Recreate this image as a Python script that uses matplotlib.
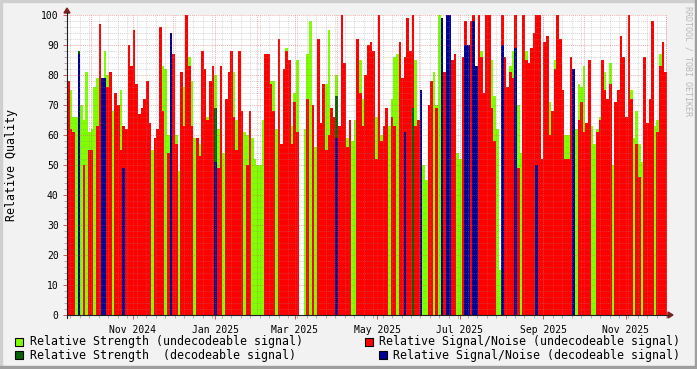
import numpy as np
import pandas as pd
import matplotlib
matplotlib.use('Agg')
import matplotlib.pyplot as plt
import matplotlib.dates as mdates
from matplotlib.patches import Rectangle, Polygon
from matplotlib.lines import Line2D

# time span covered by the bins (about 2 days per bin)
t_start = '2024-09-13 10:00'
t_end = '2025-12-01 12:00'

# relative strength, undecodeable signal (per bin, 0 = nothing)
strength_undec = [
    75, 75, 66, 66, 0, 70, 65, 81, 61, 62, 76, 79, 0, 74, 88, 80, 0, 68, 62, 61,
    75, 61, 0, 86, 60, 0, 58, 59, 0, 0, 58, 52, 55, 55, 55, 58, 83, 82,
    60, 60, 84, 60, 48, 0, 76, 0, 86, 78, 59, 57, 57, 60, 64, 66, 58, 68, 80, 62,
    58, 54, 58, 50, 0, 81, 65, 65, 62, 61, 60, 57, 59, 52, 50, 50, 65, 58,
    0, 78, 78, 62, 60, 0, 0, 89, 63, 63, 74, 85, 0, 0, 62, 87, 98, 67, 56, 63,
    63, 66, 77, 95, 58, 62, 80, 57, 63, 0, 59, 61, 58, 65, 0, 85, 72, 0,
    0, 85, 0, 66, 60, 60, 0, 0, 63, 72, 86, 87, 0, 70, 70, 0, 88, 0, 85, 63,
    0, 50, 45, 0, 71, 81, 70, 100, 0, 0, 0, 0, 72, 0, 54, 52, 0, 0,
    0, 0, 0, 59, 59, 88, 0, 0, 0, 85, 73, 62, 15, 0, 80, 76, 83, 88, 0, 70,
    54, 0, 88, 70, 0, 0, 79, 0, 0, 79, 0, 71, 67, 85, 0, 0, 0, 60,
    60, 68, 0, 62, 77, 76, 83, 0, 84, 63, 57, 62, 66, 0, 81, 0, 84, 50, 60, 64,
    81, 0, 63, 0, 75, 59, 68, 57, 51, 0, 64, 0, 0, 63, 65, 87, 80, 0,
]

# relative signal/noise, undecodeable signal
snr_undec = [
    78, 62, 61, 0, 0, 0, 50, 0, 55, 55, 0, 63, 97, 0, 0, 76, 81, 0, 74, 70,
    55, 63, 62, 90, 83, 95, 77, 67, 69, 72, 78, 64, 0, 59, 62, 96, 68, 0,
    54, 0, 87, 57, 0, 81, 63, 100, 83, 63, 0, 59, 53, 88, 82, 65, 78, 83, 57, 49,
    83, 0, 72, 81, 88, 66, 55, 88, 68, 0, 50, 68, 0, 0, 0, 0, 0, 87,
    87, 77, 68, 0, 92, 57, 82, 88, 85, 57, 71, 61, 0, 0, 0, 72, 0, 70, 0, 92,
    64, 77, 55, 60, 69, 66, 0, 63, 100, 84, 56, 65, 0, 0, 92, 74, 63, 80,
    90, 91, 88, 52, 100, 58, 63, 69, 0, 66, 63, 0, 91, 79, 86, 99, 88, 100, 63, 65,
    55, 0, 0, 70, 78, 0, 69, 0, 58, 81, 100, 60, 85, 87, 0, 0, 86, 98,
    0, 98, 100, 0, 100, 86, 74, 100, 100, 69, 58, 0, 0, 100, 86, 76, 81, 79, 100, 49,
    0, 100, 85, 84, 89, 94, 100, 100, 52, 91, 93, 60, 68, 82, 100, 92, 75, 52,
    52, 86, 0, 0, 65, 71, 61, 64, 85, 0, 0, 61, 65, 85, 75, 72, 77, 0, 71, 75,
    93, 86, 66, 100, 72, 0, 57, 46, 0, 86, 64, 72, 98, 0, 61, 83, 91, 81,
]

# decodeable signal (sparse: bin index -> value)
snr_dec_bins = [4, 13, 14, 21, 39, 56, 102, 128, 134, 142, 144, 145, 151, 152,
                154, 155, 165, 170, 178, 192]
snr_dec_vals = [87, 79, 79, 49, 94, 51, 59, 61, 75, 99, 100, 100, 90, 90,
                98, 83, 90, 89, 50, 82]
strength_dec_bins = [4, 56, 102, 131, 155]
strength_dec_vals = [88, 69, 73, 69, 83]

month_labels = ['2024-11-01', '2025-01-01', '2025-03-01', '2025-05-01',
                '2025-07-01', '2025-09-01', '2025-11-01']

legend_left = ['Relative Strength (undecodeable signal)',
               'Relative Strength  (decodeable signal)']
legend_right = ['Relative Signal/Noise (undecodeable signal)',
                'Relative Signal/Noise (decodeable signal)']

C_GREEN = '#80FF00'
C_DKGREEN = '#006400'
C_RED = '#FF0000'
C_BLUE = '#000096'
BACK = '#F2F2F2'
MONO = 'DejaVu Sans Mono'

W, H = 697, 369
fig = plt.figure(figsize=(W / 100, H / 100), dpi=100, facecolor=BACK)


def fx(x):
    return x / W


def fy(y):
    return 1 - y / H


# plot area: x 67..667, y 15..315 in pixels
ax = fig.add_axes([fx(67), fy(315), 600 / W, 300 / H])
ax.set_facecolor('white')
for s in ax.spines.values():
    s.set_visible(False)

edges = mdates.date2num(pd.date_range(t_start, t_end, periods=len(snr_undec) + 1))
left = edges[:-1]
widths = np.diff(edges)

bar_kw = dict(align='edge', linewidth=0, antialiased=False)
ax.bar(left, strength_undec, width=widths, color=C_GREEN, zorder=1, **bar_kw)
ax.bar(left, snr_undec, width=widths, color=C_RED, zorder=2, **bar_kw)
ax.bar(left[strength_dec_bins], strength_dec_vals, width=widths[strength_dec_bins],
       color=C_DKGREEN, zorder=3, **bar_kw)
ax.bar(left[snr_dec_bins], snr_dec_vals, width=widths[snr_dec_bins],
       color=C_BLUE, zorder=4, **bar_kw)

ax.set_xlim(edges[0], edges[-1])
ax.set_ylim(0, 100)

# grid drawn on top of the data, like rrdtool does
dots = (0, (1, 1))
for v in range(2, 100, 2):
    if v % 10:
        ax.axhline(v, color='#8F8F8F', alpha=0.35, lw=0.7, ls=dots, zorder=5)
for v in range(10, 101, 10):
    ax.axhline(v, color='#DE4F4F', alpha=0.45, lw=0.7, ls=dots, zorder=5)

weeks = mdates.date2num(pd.date_range('2024-09-16', t_end, freq='7D'))
months = mdates.date2num(pd.date_range('2024-10-01', t_end, freq='MS'))
for d in weeks:
    ax.axvline(d, color='#8F8F8F', alpha=0.35, lw=0.7, ls=dots, zorder=5)
for d in months:
    ax.axvline(d, color='#DE4F4F', alpha=0.45, lw=0.7, ls=dots, zorder=5)

ax.set_yticks(range(0, 101, 10))
ax.set_yticks(range(0, 101, 2), minor=True)
ax.set_yticklabels([str(v) for v in range(0, 101, 10)], fontsize=7, family=MONO)
ax.set_xticks(mdates.date2num(pd.to_datetime(month_labels)))
ax.set_xticklabels(pd.to_datetime(month_labels).strftime('%b %Y'), fontsize=7, family=MONO)
ax.set_xticks(weeks, minor=True)
ax.tick_params(which='major', length=3, width=0.7, color='#DE4F4F', pad=4)
ax.tick_params(which='minor', length=2, width=0.7, color='#B0B0B0')
ax.tick_params(axis='y', which='major', pad=3)

# y axis title, placed like rrdtool puts it
fig.text(fx(12), fy(165), 'Relative Quality', rotation=90, ha='center', va='center',
         fontsize=8.4, family=MONO)

# axes with arrows
axis_col = '#1F1F1F'
arrow_col = '#801F1F'
fig.add_artist(Line2D([fx(67), fx(668)], [fy(315), fy(315)], color=axis_col, lw=0.8))
fig.add_artist(Line2D([fx(67), fx(67)], [fy(318), fy(12)], color=axis_col, lw=0.8))
fig.add_artist(Polygon([(fx(668), fy(312)), (fx(673), fy(315)), (fx(668), fy(318))],
                       closed=True, color=arrow_col, transform=fig.transFigure))
fig.add_artist(Polygon([(fx(64), fy(13)), (fx(67), fy(8)), (fx(70), fy(13))],
                       closed=True, color=arrow_col, transform=fig.transFigure))

# watermark
fig.text(fx(688), fy(6), 'RRDTOOL / TOBI OETIKER', rotation=270, ha='center', va='top',
         fontsize=6, family=MONO, color='#B8B8B8')

# legend
rows_y = [341.5, 355]
left_colors = [C_GREEN, C_DKGREEN]
right_colors = [C_RED, C_BLUE]
for i, (txt, col) in enumerate(zip(legend_left, left_colors)):
    y = rows_y[i]
    fig.add_artist(Rectangle((fx(15), fy(y + 4)), 8 / W, 8 / H, facecolor=col,
                             edgecolor='black', lw=0.8, transform=fig.transFigure))
    fig.text(fx(30), fy(y), txt, ha='left', va='center', fontsize=8.4, family=MONO)
right_sq = [365, 379]
for i, (txt, col) in enumerate(zip(legend_right, right_colors)):
    y = rows_y[i]
    fig.add_artist(Rectangle((fx(right_sq[i]), fy(y + 4)), 8 / W, 8 / H, facecolor=col,
                             edgecolor='black', lw=0.8, transform=fig.transFigure))
    fig.text(fx(680), fy(y), txt, ha='right', va='center', fontsize=8.4, family=MONO)

# 3d-ish frame round the image
fig.add_artist(Rectangle((0, fy(2)), 1, 2 / H, color='#CFCFCF', transform=fig.transFigure))
fig.add_artist(Rectangle((0, 0), 2 / W, 1, color='#CFCFCF', transform=fig.transFigure))
fig.add_artist(Rectangle((0, 0), 1, 3 / H, color='#9E9E9E', transform=fig.transFigure))
fig.add_artist(Rectangle((fx(695), 0), 2 / W, 1, color='#9E9E9E', transform=fig.transFigure))

fig.savefig('out.png', dpi=100, facecolor=BACK)
